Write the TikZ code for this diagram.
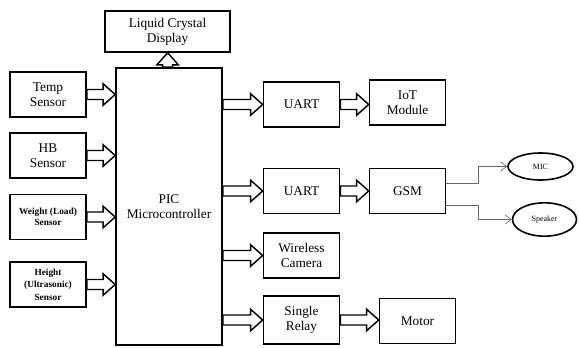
\documentclass[tikz,border=0pt]{standalone}
\usepackage{fontspec}
\setmainfont{Liberation Serif}
\usetikzlibrary{arrows.meta,positioning,shapes.geometric,calc}
\tikzset{
  blk/.style={draw, line width=1.2pt, align=center, minimum width=57pt, minimum height=34pt, inner sep=2pt, font=\fontsize{10}{11.5}\selectfont},
  oval/.style={ellipse, draw, line width=1.2pt, inner sep=1pt, font=\fontsize{6}{7}\selectfont},
  fat/.style={draw, line width=1.1pt, fill=white, line join=miter,
    to path={let \p1=(\tikztostart), \p2=(\tikztotarget), \p3=($(\p2)!9pt!(\p1)$) in
      ($(\p1)!3.75pt!90:(\p2)$) -- ($(\p3)!3.75pt!90:(\p2)$) -- ($(\p3)!8pt!90:(\p2)$) -- (\p2)
      -- ($(\p3)!8pt!-90:(\p2)$) -- ($(\p3)!3.75pt!-90:(\p2)$) -- ($(\p1)!3.75pt!-90:(\p2)$) -- cycle}},
  thinline/.style={-{Straight Barb[length=1.6mm, width=2.4mm]}, gray!80!black, line width=0.5pt}
}
\begin{document}
\begin{tikzpicture}[x=0.75pt, y=-0.75pt]
  \useasboundingbox (0,0) rectangle (579,347);
  % controller and display
  \node[blk, minimum width=79.5pt, minimum height=207.75pt] (pic) at (169,206.5) {PIC\\Microcontroller};
  \node[blk, minimum width=93.75pt, minimum height=30.75pt] (lcd) at (167.5,31.5) {Liquid Crystal\\Display};
  % sensors
  \node[blk] (temp) at (48,94.5) {Temp\\Sensor};
  \node[blk] (hb) at (48,155.5) {HB\\Sensor};
  \node[blk, font=\fontsize{7}{8.5}\selectfont\bfseries] (weight) at (48,217) {Weight (Load)\\Sensor};
  \node[blk, font=\fontsize{7}{9.5}\selectfont\bfseries] (height) at (48,284.5) {Height\\(Ultrasonic)\\Sensor};
  % outputs
  \node[blk] (uart1) at (301.5,104.5) {UART};
  \node[blk] (iot) at (407.5,102.5) {IoT\\Module};
  \node[blk] (uart2) at (301.5,191) {UART};
  \node[blk] (gsm) at (407.5,191) {GSM};
  \node[blk] (cam) at (301.5,255.5) {Wireless\\Camera};
  \node[blk, minimum height=36pt] (relay) at (301.5,320) {Single\\Relay};
  \node[blk] (motor) at (417.5,321) {Motor};
  \node[oval, minimum width=48.75pt, minimum height=20.25pt] (mic) at (540.5,166.5) {MIC};
  \node[oval, minimum width=48pt, minimum height=25pt] (speaker) at (544.5,219.5) {Speaker};
  % block arrows
  \draw[fat] ([xshift=-1pt]pic.north) to ([xshift=-1pt]pic.north |- lcd.south);
  \foreach \s in {temp,hb,weight,height}
    \draw[fat] (\s.east) to (\s.east -| pic.west);
  \foreach \o in {uart1,uart2,cam,relay}
    \draw[fat] (\o.west -| pic.east) to (\o.west);
  \draw[fat] (uart1.east) to (uart1.east -| iot.west);
  \draw[fat] (uart2.east) to (gsm.west);
  \draw[fat] (relay.east) to (relay.east -| motor.west);
  % gsm links
  \draw[thinline] ([yshift=6pt]gsm.east) -- ++(24pt,0) |- (mic.west);
  \draw[thinline] ([yshift=-10.5pt]gsm.east) -- ++(24pt,0) |- (speaker.west);
\end{tikzpicture}
\end{document}
